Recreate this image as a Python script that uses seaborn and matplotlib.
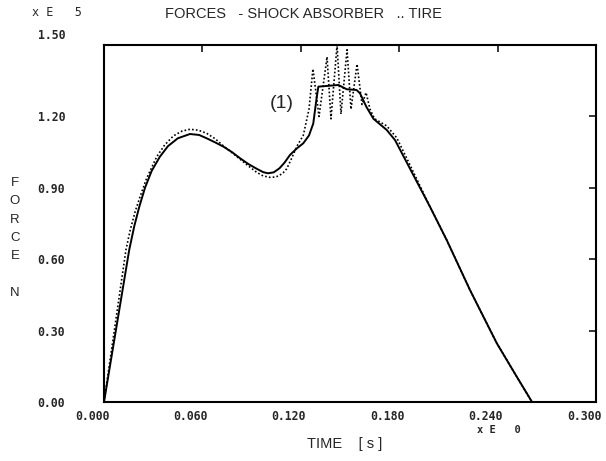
import numpy as np
import pandas as pd
import matplotlib
matplotlib.use("Agg")
import matplotlib.pyplot as plt
from matplotlib.transforms import ScaledTranslation
import seaborn as sns

# ---------------- data (forces in units of 1e5 N, time in s) ----------------
t_shock = [0.000, 0.0077, 0.0154, 0.0185, 0.0215, 0.0250, 0.0290, 0.0340, 0.0390,
           0.0450, 0.0524, 0.0580, 0.0626, 0.0680, 0.0728, 0.0780, 0.0830, 0.0880,
           0.0931, 0.0970, 0.1000, 0.1035, 0.1070, 0.1100, 0.1134, 0.1175, 0.1215,
           0.1250, 0.1276, 0.1295, 0.1307, 0.1360, 0.1429, 0.1480, 0.1540, 0.1561,
           0.1600, 0.1643, 0.1724, 0.1775, 0.1870, 0.1988, 0.2090, 0.2232, 0.2395,
           0.2517, 0.2610]
f_shock = [0.000, 0.320, 0.640, 0.740, 0.820, 0.900, 0.970, 1.030, 1.075,
           1.108, 1.126, 1.122, 1.108, 1.090, 1.073, 1.050, 1.024, 1.000,
           0.980, 0.966, 0.961, 0.965, 0.982, 1.005, 1.038, 1.065, 1.087,
           1.120, 1.170, 1.270, 1.325, 1.328, 1.332, 1.314, 1.311, 1.297,
           1.240, 1.190, 1.143, 1.100, 0.975, 0.820, 0.680, 0.470, 0.247,
           0.106, 0.000]

t_tire = [0.000, 0.0067, 0.0134, 0.0159, 0.0190, 0.0220, 0.0260, 0.0321, 0.0370,
          0.0423, 0.0475, 0.0524, 0.0575, 0.0626, 0.0680, 0.0728, 0.0780, 0.0830,
          0.0880, 0.0931, 0.0970, 0.1010, 0.1045, 0.1070, 0.1095, 0.1114, 0.1145,
          0.1175, 0.1215, 0.1250, 0.1274, 0.1311, 0.1360, 0.1384, 0.1421, 0.1445,
          0.1482, 0.1506, 0.1543, 0.1573, 0.1598, 0.1622, 0.1650, 0.1724, 0.1785,
          0.1870, 0.1988, 0.2090, 0.2232, 0.2395, 0.2517, 0.2610]
f_tire = [0.000, 0.320, 0.640, 0.720, 0.800, 0.863, 0.940, 1.030, 1.080,
          1.118, 1.138, 1.146, 1.142, 1.129, 1.105, 1.076, 1.048, 1.020,
          0.992, 0.965, 0.950, 0.944, 0.945, 0.952, 0.965, 0.980, 1.025,
          1.073, 1.120, 1.230, 1.400, 1.200, 1.450, 1.190, 1.500, 1.210,
          1.480, 1.230, 1.420, 1.250, 1.300, 1.230, 1.190, 1.160, 1.110,
          0.990, 0.820, 0.680, 0.470, 0.247, 0.106, 0.000]

x_ticks = [0.000, 0.060, 0.120, 0.180, 0.240, 0.300]
x_tick_labels = ["0.000", "0.060", "0.120", "0.180", "0.240", "0.300"]
y_ticks = [0.00, 0.30, 0.60, 0.90, 1.20, 1.50]
y_tick_labels = ["0.00", "0.30", "0.60", "0.90", "1.20", "1.50"]

title = "FORCES   - SHOCK ABSORBER   .. TIRE"
x_label = "TIME    [ s ]"
y_label = "F\nO\nR\nC\nE\n\nN"
annotation = "(1)"

# ---------------- figure ----------------
sns.set_theme(style="white")
plt.rcParams["font.family"] = ["Liberation Sans", "DejaVu Sans"]

W, H = 606, 461
fig = plt.figure(figsize=(W / 100, H / 100), dpi=100)
ax = fig.add_axes([104 / W, 1 - 402 / H, 492 / W, 357 / H])

df_s = pd.DataFrame({"t": t_shock, "F": f_shock})
df_t = pd.DataFrame({"t": t_tire, "F": f_tire})

sns.lineplot(data=df_s, x="t", y="F", ax=ax, color="black", linewidth=1.4,
             estimator=None, sort=False)
sns.lineplot(data=df_t, x="t", y="F", ax=ax, color="black", linewidth=1.2,
             linestyle=(0, (1, 1.3)), estimator=None, sort=False)

ax.set_xlim(0, 0.3)
ax.set_ylim(0, 1.5)
ax.set_xticks(x_ticks)
ax.set_xticklabels(x_tick_labels)
ax.set_yticks(y_ticks)
ax.set_yticklabels(y_tick_labels)

for s in ax.spines.values():
    s.set_color("black")
    s.set_linewidth(1.5)

ax.tick_params(axis="both", direction="in", length=5, width=1.1, color="black",
               top=True, right=True)
ax.tick_params(axis="x", pad=6)
ax.tick_params(axis="y", pad=28)

for lab in ax.get_xticklabels() + ax.get_yticklabels():
    lab.set_fontfamily("DejaVu Sans Mono")
    lab.set_fontweight("bold")
    lab.set_fontsize(8.3)
for lab in ax.get_xticklabels():
    lab.set_transform(lab.get_transform() +
                      ScaledTranslation(-12 / 100, 0, fig.dpi_scale_trans))
ylabs = ax.get_yticklabels()
ylabs[-1].set_transform(ylabs[-1].get_transform() +
                        ScaledTranslation(0, 11 / 100, fig.dpi_scale_trans))

ax.set_xlabel(x_label, fontsize=10.5)
ax.xaxis.set_label_coords((345 - 104) / 492, (402 - 437) / 357)
ax.set_ylabel("")

fig.text(15 / W, 1 - 177 / H, y_label, fontsize=9.5, ha="center", va="top",
         linespacing=1.7)
fig.text(303 / W, 1 - 14 / H, title, fontsize=10.5, ha="center", va="center")
fig.text(57 / W, 1 - 13 / H, "x E   5", fontsize=8.5, ha="center", va="center",
         family="DejaVu Sans Mono")
fig.text(499 / W, 1 - 430 / H, "x E   0", fontsize=7.5, ha="center", va="center",
         family="DejaVu Sans Mono", weight="bold")

ax.text(0.1085, 1.255, annotation, fontsize=14, ha="center", va="center")

fig.savefig("out.png", dpi=100, facecolor="white")
